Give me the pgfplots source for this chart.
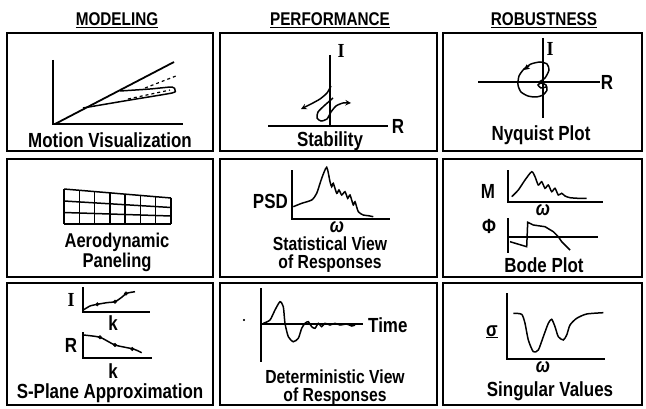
\documentclass[border=0pt]{standalone}
\usepackage{pgfplots}
\pgfplotsset{compat=1.18}
\usepackage{fontspec}
\setmainfont{Liberation Sans}[FakeStretch=0.83]
\newfontfamily\serifI{Liberation Serif}[FakeStretch=0.9]
\pgfplotsset{
  bx/.style={black,line width=2pt,line join=miter,line cap=rect,no markers},
  axl/.style={black,line width=1.8pt,no markers},
  crv/.style={black,line width=1.5pt,no markers,smooth,tension=0.4},
  dotm/.style={black,only marks,mark=*,mark size=1.8pt},
}
\tikzset{
  lab/.style={font=\fontsize{20.5}{20.5}\selectfont\bfseries,anchor=base,inner sep=0pt},
  two/.style={font=\fontsize{19}{18}\selectfont\bfseries,anchor=base,inner sep=0pt,align=center},
  hd/.style={font=\fontsize{18.5}{18.5}\selectfont\bfseries,anchor=base,inner sep=0pt},
}
\begin{document}
\begin{tikzpicture}
\begin{axis}[width=646bp,height=409bp,scale only axis,xmin=0,xmax=646,ymin=0,ymax=409,
  y dir=reverse,hide axis,clip=false]
% invisible extent of the picture
\addplot[draw=none,no markers] coordinates {(0,0)(646,409)};
% ---------- frames
\addplot[bx] coordinates {(7,33)(213,33)(213,151)(7,151)(7,33)};
\addplot[bx] coordinates {(220,33)(437,33)(437,151)(220,151)(220,33)};
\addplot[bx] coordinates {(443,33)(642,33)(642,151)(443,151)(443,33)};
\addplot[bx] coordinates {(7,159)(213,159)(213,277)(7,277)(7,159)};
\addplot[bx] coordinates {(220,159)(437,159)(437,277)(220,277)(220,159)};
\addplot[bx] coordinates {(443,159)(642,159)(642,277)(443,277)(443,159)};
\addplot[bx] coordinates {(7,283)(213,283)(213,405)(7,405)(7,283)};
\addplot[bx] coordinates {(220,283)(437,283)(437,405)(220,405)(220,283)};
\addplot[bx] coordinates {(443,283)(642,283)(642,405)(443,405)(443,283)};
% ---------- headers
\node[hd] at (axis cs:117,26) {\underline{MODELING}};
\node[hd] at (axis cs:330,26) {\underline{PERFORMANCE}};
\node[hd] at (axis cs:544,26) {\underline{ROBUSTNESS}};
% ---------- panel 1: motion visualization
\addplot[axl] coordinates {(53,60)(53,124)(183,124)};
\addplot[axl] coordinates {(55,124)(174,62)};
\addplot[crv] coordinates {(120,91)(150,89)(172,87)(175,90)(172,93)(130,100)(83,108)};
\addplot[black,line width=1.2pt,dashed,no markers] coordinates {(128,99)(170,90)};
\addplot[black,line width=1.2pt,dashed,no markers] coordinates {(145,88)(176,76)};
\node[lab] at (axis cs:110,147) {Motion Visualization};
% ---------- panel 2: stability
\addplot[axl] coordinates {(330,55)(330,126)};
\addplot[axl] coordinates {(268,126)(388,126)};
\addplot[crv,-stealth] coordinates {(331,86)(327,93)(320,99)(311,104)(301,109)};
\addplot[crv,-stealth] coordinates {(333,98)(325,105)(318,112)(317,118)(321,121)(327,119)(331,112)(336,106)(343,103)(351,103)};
\node[anchor=base,inner sep=0pt,font=\fontsize{20}{20}\selectfont\serifI\bfseries] at (axis cs:341,57) {I};
\node[lab] at (axis cs:398,133) {R};
\node[lab] at (axis cs:330,146) {Stability};
% ---------- panel 3: nyquist
\addplot[axl] coordinates {(543,38)(543,118)};
\addplot[axl] coordinates {(478,82)(600,82)};
\addplot[crv] coordinates {(539,82)(545,78)(549,70)(547,64)(540,62)(531,64)(524,69)(519,76)(518,85)(521,92)(528,96)(536,97)(543,95)(547,90)(546,85)(541,83)(538,85)(541,88)(546,87)};
\addplot[black,line width=1.5pt,-stealth,no markers] coordinates {(529,66)(524,70)};
\node[anchor=base,inner sep=0pt,font=\fontsize{20}{20}\selectfont\serifI\bfseries] at (axis cs:550,55) {I};
\node[lab] at (axis cs:607,89) {R};
\node[lab] at (axis cs:541,140) {Nyquist Plot};
% ---------- panel 4: aerodynamic paneling
\addplot[black,line width=1.5pt,no markers] coordinates {(64,189)(171,198)};
\addplot[black,line width=1.5pt,no markers] coordinates {(64,201)(171,207.5)};
\addplot[black,line width=1.5pt,no markers] coordinates {(64,212.5)(171,216)};
\addplot[black,line width=1.5pt,no markers] coordinates {(64,224)(171,224)};
\addplot[black,line width=1.5pt,no markers,unbounded coords=jump] coordinates {
 (64,189)(64,224)(64,nan)
 (79.3,190.3)(79.3,224)(79.3,nan)
 (94.6,191.6)(94.6,224)(94.6,nan)
 (109.9,192.9)(109.9,224)(109.9,nan)
 (125.1,194.1)(125.1,224)(125.1,nan)
 (140.4,195.4)(140.4,224)(140.4,nan)
 (155.7,196.7)(155.7,224)(155.7,nan)
 (171,198)(171,224)};
\node[two,font=\fontsize{20}{20}\selectfont\bfseries] at (axis cs:117,267) {Aerodynamic\\Paneling};
% ---------- panel 5: PSD
\addplot[axl] coordinates {(292,170)(292,219)(390,219)};
\addplot[crv] coordinates {(293.3,206.7)(301.7,203.3)(311.7,200)(316.7,193.3)(321.7,178.3)(326.7,167.3)(330,181.7)(331.7,186.7)(333.3,183.3)(336.7,193.3)(339,190)(341.7,195)(345,191.7)(347.7,198.3)(350,195)(353.3,205)(355,201.7)(358.3,211.7)(363.3,215)(368.3,215.7)(373.3,216.7)};
\node[lab,anchor=base east] at (axis cs:288,208) {PSD};
\node[lab,text depth=0pt] at (axis cs:337,232) {\itshape ω};
\node[two] at (axis cs:330,268) {Statistical View\\of Responses};
% ---------- panel 6: Bode
\addplot[axl] coordinates {(508,170)(508,202)(603,202)};
\addplot[crv] coordinates {(511.7,196.7)(518.3,190)(525,180)(531.7,171.7)(535,176.7)(538.3,185)(541.7,181.7)(545,188.3)(548.3,185)(551.7,191.7)(555,188.3)(558.3,195)(561.7,193.3)(565,196)(570,197.7)(578.3,198.3)(586.7,198.3)};
\addplot[axl] coordinates {(508,218)(508,253)};
\addplot[axl] coordinates {(508,237)(598,237)};
\addplot[black,line width=1.5pt,no markers] coordinates {(510,241.7)(526.7,246.7)(527.7,222.3)(533.3,225)(545,226.7)(553.3,231.7)(558.3,236.7)(561.7,241.7)(570,250)};
\node[lab] at (axis cs:488,198) {M};
\node[lab] at (axis cs:543,215) {\itshape ω};
\node[lab] at (axis cs:489,233) {Φ};
\node[lab] at (axis cs:544,272) {Bode Plot};
% ---------- panel 7: S-plane
\addplot[axl] coordinates {(83,287)(83,312)(150,312)};
\addplot[crv] coordinates {(83.3,310)(90,306)(97.3,304.3)(106.7,302.7)(115,301.7)(121.7,297.3)(126.7,293.3)(135,291.7)};
\addplot[dotm] coordinates {(97.3,304.3)(115,301.7)(126,293.5)};
\addplot[axl] coordinates {(83,332)(83,358)(152,358)};
\addplot[crv] coordinates {(83.3,335)(100,337.3)(115,345)(133.3,349)(141.7,352.7)};
\addplot[dotm] coordinates {(100,337.3)(115,345)(132.3,349)};
\node[anchor=base,inner sep=0pt,font=\fontsize{20}{20}\selectfont\serifI\bfseries] at (axis cs:71,306) {I};
\node[lab] at (axis cs:113,330) {k};
\node[lab] at (axis cs:71,352) {R};
\node[lab] at (axis cs:113,378) {k};
\node[lab] at (axis cs:110,398) {S-Plane Approximation};
% ---------- panel 8: deterministic
\addplot[axl] coordinates {(261,288)(261,362)};
\addplot[axl] coordinates {(261,324)(363,324)};
\addplot[crv] coordinates {(263.3,323.3)(270,320)(275,310)(280,301.7)(283.3,306.7)(285,323.3)(288.3,336.7)(293.3,341.7)(298.3,338.3)(301.7,328.3)(305,323.3)(308.3,321.7)(311.7,326.7)(315,328.3)(318.3,323.3)(321.7,326.7)(325,323.3)(330,325)(335,323.3)(340,325)(346.7,324)(351.7,326)(355,325)};
\addplot[dotm,mark size=0.9pt] coordinates {(244,320)};
\node[lab,anchor=base west] at (axis cs:368,332) {Time};
\node[two] at (axis cs:335,401) {Deterministic View\\of Responses};
% ---------- panel 9: singular values
\addplot[axl] coordinates {(507,293)(507,359)(605,359)};
\addplot[crv] coordinates {(513.3,313.3)(521.7,314.3)(525,323.3)(528.3,340)(533.3,351.7)(538.3,350)(543.3,336.7)(548.3,323.3)(551.7,319.3)(555,326.7)(558.3,336.7)(563.3,340)(566.7,335)(570,325)(576.7,318.3)(586.7,314)(603.3,312.7)};
\node[lab] at (axis cs:492,336) {\underline{σ}};
\node[lab] at (axis cs:543,372) {\itshape ω};
\node[lab] at (axis cs:550,396) {Singular Values};
\end{axis}
\end{tikzpicture}
\end{document}
